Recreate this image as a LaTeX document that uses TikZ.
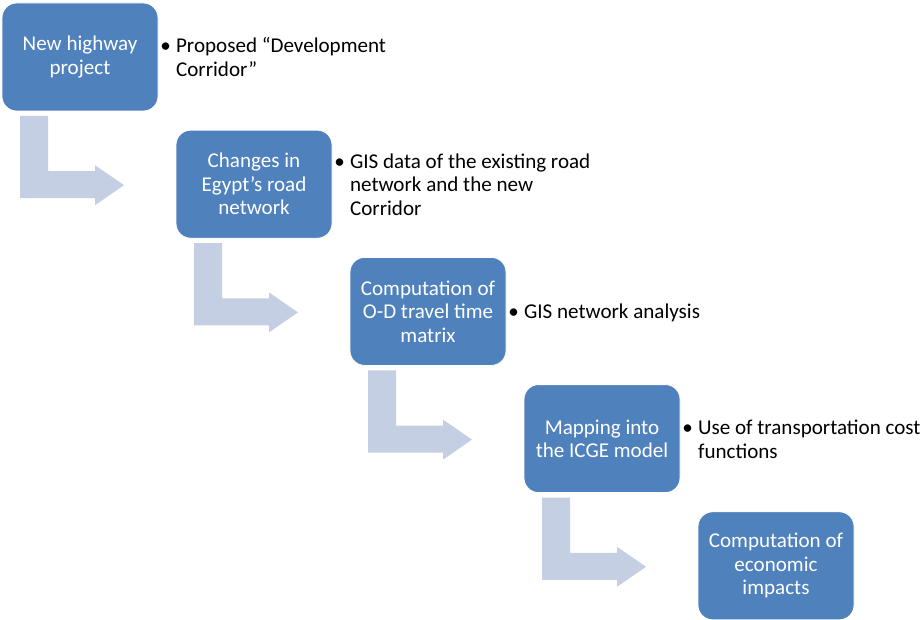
\documentclass[tikz,border=0pt]{standalone}
\usepackage{fontspec}
\setmainfont{Carlito}
\usetikzlibrary{positioning,calc}
\definecolor{boxblue}{RGB}{79,129,189}
\definecolor{arrowgray}{RGB}{197,207,227}
\tikzset{
  stepbox/.style={rectangle, rounded corners=11pt, fill=boxblue, draw=white, line width=0.6pt,
    minimum width=117pt, minimum height=81pt, inner sep=2pt, outer sep=0pt, text=white, align=center,
    font=\fontsize{15.8}{17.6}\selectfont},
  note/.style={anchor=west, inner sep=0pt, text=black, font=\fontsize{15.8}{17.6}\selectfont},
  bentfill/.style={fill=arrowgray}
}
% bent arrow from the bottom of one box to the left of the next
\newcommand\bentarrow[2]{%
  \coordinate (s) at ($(#1.south west)+(18,5)$);
  \coordinate (t) at ($(#2.west)+(-52,1)$);
  \fill[bentfill] (s) -- ++(28,0) |- ($(t)+(-29,-14)$) -- ++(0,-6) -- (t)
     -- ++(-29,20) -- ++(0,-7) -| (s) -- cycle;
}
\newcommand\notetext[2]{\begin{tabular}{@{}l@{\hspace{4pt}}l@{}}\textbullet & #1\\ & #2\end{tabular}}
\begin{document}
\begin{tikzpicture}[x=0.75pt,y=-0.75pt]
\useasboundingbox (0,0) rectangle (921,620);

% steps
\node[stepbox] (n1) at (80,57) {New highway\\project};
\node[stepbox, below right=14.4pt and 13.5pt of n1] (n2) {Changes in\\Egypt’s road\\network};
\node[stepbox, below right=14.4pt and 13.5pt of n2] (n3) {Computation of\\O-D travel time\\matrix};
\node[stepbox, below right=14.4pt and 13.5pt of n3] (n4) {Mapping into\\the ICGE model};
\node[stepbox, below right=14.4pt and 13.5pt of n4] (n5) {Computation of\\economic\\impacts};

% notes
\node[note] (l1) at ($(n1.east)+(2,3)$) {\notetext{Proposed “Development}{Corridor”}};
\node[note] (l2) at ($(n2.east)+(2,3)$) {\begin{tabular}{@{}l@{\hspace{4pt}}l@{}}\textbullet & GIS data of the existing road\\ & network and the new\\ & Corridor\end{tabular}};
\node[note] (l3) at ($(n3.east)+(2,2)$) {\begin{tabular}{@{}l@{\hspace{4pt}}l@{}}\textbullet & GIS network analysis\end{tabular}};
\node[note] (l4) at ($(n4.east)+(2,3)$) {\notetext{Use of transportation cost}{functions}};

% arrows
\bentarrow{n1}{n2}
\bentarrow{n2}{n3}
\bentarrow{n3}{n4}
\bentarrow{n4}{n5}

\end{tikzpicture}
\end{document}
